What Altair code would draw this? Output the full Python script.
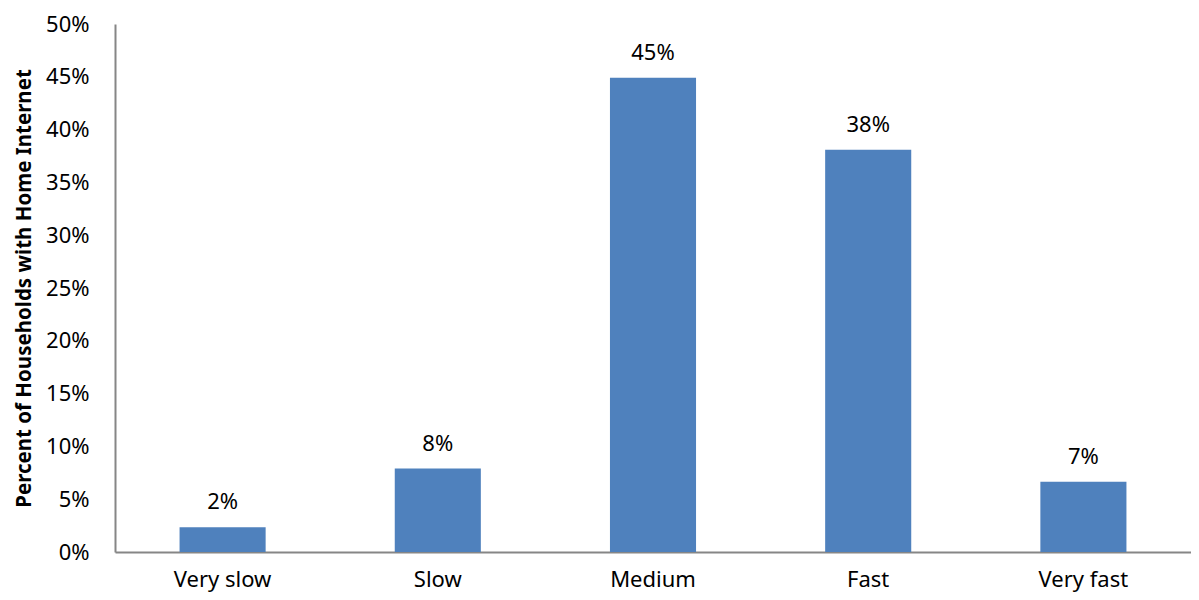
import altair as alt
import pandas as pd

categories = ["Very slow", "Slow", "Medium", "Fast", "Very fast"]
values = [2.35, 7.9, 44.9, 38.1, 6.65]
labels = ["2%", "8%", "45%", "38%", "7%"]
y_ticks = [0, 5, 10, 15, 20, 25, 30, 35, 40, 45, 50]

df = pd.DataFrame({"cat": categories, "val": values, "lab": labels})

FONT = "Noto Sans"

x = alt.X("cat:N", sort=categories, title=None,
          scale=alt.Scale(paddingInner=0.6, paddingOuter=0.3),
          axis=alt.Axis(labelAngle=0, labelFont=FONT, labelFontSize=22, labelColor="#000000",
                        domainColor="#868686", domainWidth=2, ticks=False, labelPadding=17))
y = alt.Y("val:Q", title="Percent of Households with Home Internet",
          scale=alt.Scale(domain=[0, 50], nice=False),
          axis=alt.Axis(values=y_ticks, labelExpr="datum.value + '%'", grid=False, ticks=False,
                        labelFont=FONT, labelFontSize=22, labelColor="#000000", labelPadding=26,
                        domainColor="#868686", domainWidth=2,
                        titleFont=FONT, titleFontSize=20.5, titleFontWeight="bold", titleColor="#000000",
                        titlePadding=11))

bars = alt.Chart(df).mark_bar(color="#4F81BD").encode(x=x, y=y)
text = alt.Chart(df).mark_text(baseline="bottom", dy=-13, font=FONT, fontSize=22, color="#000000").encode(
    x=alt.X("cat:N", sort=categories), y="val:Q", text="lab:N")

chart = (bars + text).properties(
    width=1076, height=528,
    autosize=alt.AutoSizeParams(type="none"),
    padding={"left": 107, "top": 16, "right": 0, "bottom": 47},
).configure_view(stroke=None)

chart.save("out.html", embed_options={"renderer": "svg", "actions": False})
